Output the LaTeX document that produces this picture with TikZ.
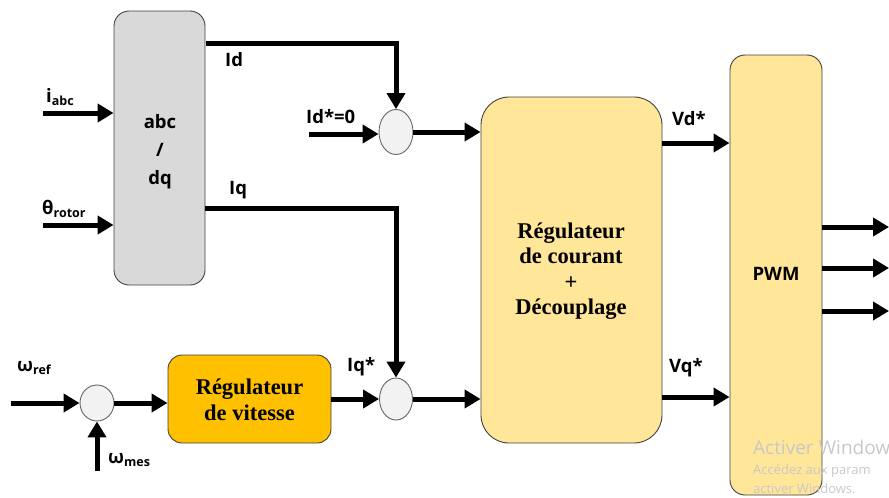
\documentclass[tikz,border=0pt]{standalone}
\usepackage{fontspec}
\setmainfont{Liberation Serif}
\setsansfont{Open Sans}
\usetikzlibrary{arrows.meta,shapes.geometric}
\definecolor{boxgray}{HTML}{D9D9D9}
\definecolor{vitorange}{HTML}{FFC000}
\definecolor{curyellow}{HTML}{FFE699}
\definecolor{sumfill}{HTML}{F2F2F2}
\definecolor{edgegray}{HTML}{404040}
\definecolor{wmgray}{HTML}{C8C8C8}
\newcommand{\subsz}[1]{\textsubscript{\fontsize{12.5}{13}\selectfont #1}}
\tikzset{
  block/.style={draw=edgegray, line width=0.9pt, rectangle, inner sep=0pt},
  sumnode/.style={draw=edgegray!80, line width=0.9pt, ellipse, fill=sumfill, inner sep=0pt},
  sig/.style={line width=5pt, line join=miter,
    -{Triangle[length=16pt,width=18pt]}},
  lab/.style={font=\sffamily\bfseries\fontsize{18.5}{28}\selectfont, inner sep=0pt},
  serif/.style={font=\rmfamily\bfseries\fontsize{22.5}{25.5}\selectfont, align=center},
}
\begin{document}
\begin{tikzpicture}[x=1pt,y=-1pt]
\useasboundingbox (0,0) rectangle (889,498);
\clip (0,0) rectangle (889,498);

% blocks
\node[block, fill=boxgray, rounded corners=15pt, minimum width=91pt, minimum height=274pt]
  (abc) at (159.5,148) {};
\node[lab, align=center] at (160,152) {abc\\/\\dq};
\node[block, fill=curyellow, rounded corners=28pt, minimum width=181pt, minimum height=346pt]
  (cur) at (571.5,270) {};
\node[serif] at (571,271) {Régulateur\\de courant\\+\\Découplage};
\node[block, fill=curyellow, rounded corners=15pt, minimum width=92pt, minimum height=440pt]
  (pwm) at (776,275) {};
\node[lab] at (776,274) {PWM};
\node[block, fill=vitorange, rounded corners=14pt, minimum width=163pt, minimum height=88pt]
  (vit) at (249.5,399) {};
\node[serif] at (249.5,400) {Régulateur\\de vitesse};

% summing points
\node[sumnode, minimum width=34pt, minimum height=45pt] (s1) at (396,132) {};
\node[sumnode, minimum width=33pt, minimum height=42pt] (s2) at (396,399) {};
\node[sumnode, minimum width=34pt, minimum height=36pt] (s3) at (97,403) {};

% free ends
\coordinate (iabc) at (43,113);
\coordinate (theta) at (43,225);
\coordinate (idst) at (206,43);
\coordinate (iqst) at (205,208);
\coordinate (idref) at (309,134);
\coordinate (wref) at (11,403);
\coordinate (wmes) at (97,471);
\coordinate (o1) at (889,227);
\coordinate (o2) at (889,268);
\coordinate (o3) at (889,311);

% connectors
\draw[sig] (iabc) -- (iabc -| abc.west);
\draw[sig] (theta) -- (theta -| abc.west);
\draw[sig] (idst) -| (s1.north);
\draw[sig] (iqst) -| (s2.north);
\draw[sig] (idref) -- (idref -| s1.west);
\draw[sig] (s1.east) -- (s1.east -| cur.west);
\draw[sig] (s2.east) -- (s2.east -| cur.west);
\draw[sig] (wref) -- (s3.west);
\draw[sig] (s3.east) -- (s3.east -| vit.west);
\draw[sig] (wmes) -- (s3.south);
\draw[sig] (vit.east) -- (s2.west);
\draw[sig] (cur.east |- 0,143) -- (pwm.west |- 0,143);
\draw[sig] (cur.east |- 0,397) -- (pwm.west |- 0,397);
\draw[sig] (o1 -| pwm.east) -- (o1);
\draw[sig] (o2 -| pwm.east) -- (o2);
\draw[sig] (o3 -| pwm.east) -- (o3);

% signal labels
\node[lab, anchor=west] at (46,97) {i\subsz{abc}};
\node[lab, anchor=west] at (42,209) {θ\subsz{rotor}};
\node[lab, anchor=west] at (225,60) {Id};
\node[lab, anchor=west] at (229,190) {Iq};
\node[lab, anchor=west] at (306,117) {Id*=0};
\node[lab, anchor=west] at (347,367) {Iq*};
\node[lab, anchor=west] at (672,119) {Vd*};
\node[lab, anchor=west] at (669,368) {Vq*};
\node[lab, anchor=west] at (17,368) {ω\subsz{ref}};
\node[lab, anchor=west] at (108,460) {ω\subsz{mes}};

% system notice text in the lower right corner
\node[anchor=base west, text=wmgray, font=\sffamily\fontsize{19}{20}\selectfont, inner sep=0pt]
  at (753,454) {Activer Window};
\node[anchor=base west, text=wmgray, font=\sffamily\fontsize{13}{14}\selectfont, inner sep=0pt]
  at (753,474) {Accédez aux param};
\node[anchor=base west, text=wmgray, font=\sffamily\fontsize{13}{14}\selectfont, inner sep=0pt]
  at (753,493) {activer Windows.};
\end{tikzpicture}
\end{document}
